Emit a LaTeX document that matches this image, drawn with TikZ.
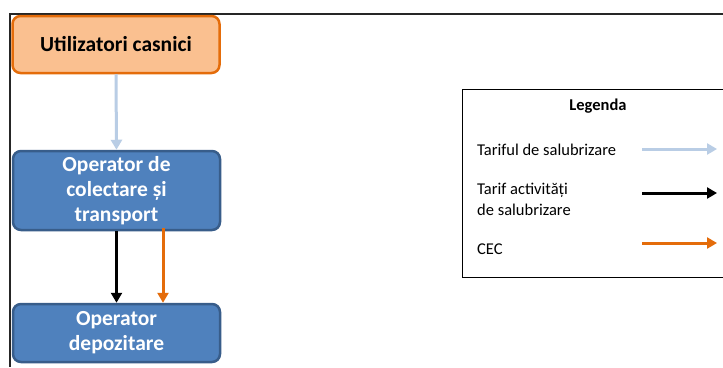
\documentclass[tikz,border=0pt]{standalone}
\usepackage{fontspec}
\setmainfont{Carlito}
\usetikzlibrary{arrows.meta}
\definecolor{orfill}{HTML}{FAC090}
\definecolor{ordraw}{HTML}{E46C0A}
\definecolor{blfill}{HTML}{4F81BD}
\definecolor{bldraw}{HTML}{385D8A}
\definecolor{ltblue}{HTML}{B9CDE5}
\definecolor{orarrow}{HTML}{E46C0A}
\tikzset{
  box/.style={rounded corners=8pt, line width=2.5pt, minimum width=207pt, align=center, font=\fontsize{21.5}{25}\selectfont\bfseries, inner sep=0pt},
  orbox/.style={box, draw=ordraw, fill=orfill, text=black},
  blbox/.style={box, draw=bldraw, fill=blfill, text=white},
  arr/.style={line width=3pt, -{Triangle[length=10pt,width=11pt]}},
  larr/.style={arr, draw=ltblue},
  karr/.style={arr, draw=black},
  oarr/.style={arr, draw=orarrow},
  legtxt/.style={font=\fontsize{16.5}{21}\selectfont, anchor=west, align=left, inner sep=0pt},
}
\begin{document}
\begin{tikzpicture}[x=1pt,y=-1pt]
\useasboundingbox (0,0) rectangle (723,367);
\fill[white] (0,0) rectangle (723,367);
% frame
\draw[line width=1.5pt, black!85] (723,14) -- (10,14) -- (10,367);
% boxes
\node[orbox, minimum height=57pt] (u) at (116,44.5) {Utilizatori casnici};
\node[blbox, minimum height=79pt] (c) at (116.5,190.5) {Operator de\\colectare și\\transport};
\node[blbox, minimum height=58pt] (d) at (116.5,333) {Operator\\depozitare};
% arrows
\draw[larr] (u.south) -- (c.north);
\draw[karr] (c.south) -- (d.north);
\coordinate (ox) at (163,0);
\coordinate (o1) at (c.south -| ox);
\coordinate (o2) at (d.north -| ox);
\draw[oarr] ([yshift=3pt]o1) -- (o2);
% legend
\node[draw=black, line width=1.2pt, minimum width=280pt, minimum height=188pt, anchor=north west, inner sep=0pt] (leg) at (462,89) {};
\node[font=\fontsize{16.5}{20}\selectfont\bfseries] (lt) at (598,106) {Legenda};
\node[legtxt] (t1) at (477,150) {Tariful de salubrizare};
\node[legtxt] (t2) at (477,199) {Tarif activități\\de salubrizare};
\node[legtxt] (t3) at (477,249) {CEC};
\coordinate (a1s) at (642,149); \coordinate (a1e) at (717,149);
\coordinate (a2s) at (642,193); \coordinate (a2e) at (717,193);
\coordinate (a3s) at (642,243); \coordinate (a3e) at (717,243);
\draw[larr] (a1s) -- (a1e);
\draw[karr] (a2s) -- (a2e);
\draw[oarr] (a3s) -- (a3e);
\end{tikzpicture}
\end{document}
